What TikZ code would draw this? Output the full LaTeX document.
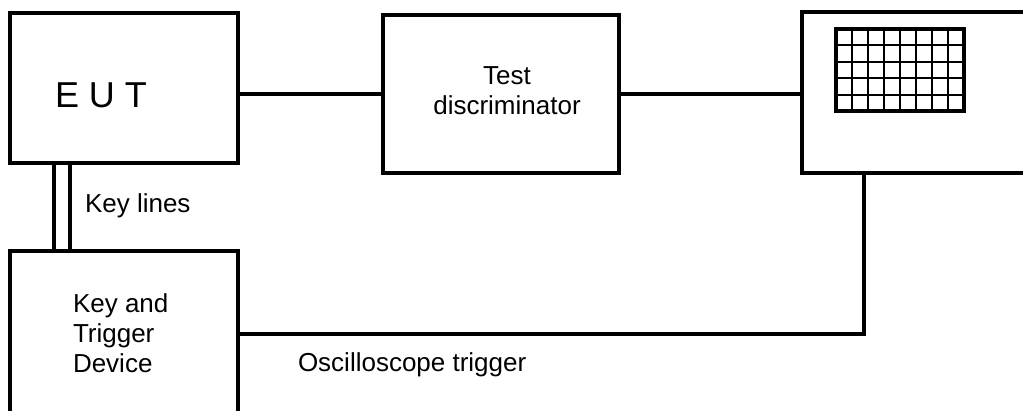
\documentclass[tikz,border=0pt]{standalone}
\usepackage{fontspec}
\setmainfont{Liberation Sans}
\begin{document}
\begin{tikzpicture}[x=1pt,y=-1pt,
  box/.style={draw=black,line width=3.3pt,inner sep=0pt,outer sep=0pt},
  wire/.style={draw=black,line width=3.3pt},
  keyline/.style={draw=black,line width=3.6pt},
  lbl/.style={inner sep=0pt,outer sep=0pt,font=\fontsize{26}{30}\selectfont},
  gridouter/.style={draw=black,line width=3.5pt},
  gridinner/.style={draw=black,line width=2pt}]
\useasboundingbox (0,0) rectangle (1023,411);
\clip (0,0) rectangle (1023,411);
% boxes
\node[box,minimum width=228pt,minimum height=150pt] (eut) at (124,88) {};
\node[box,minimum width=236pt,minimum height=158pt] (test) at (501,94) {};
\node[box,minimum width=240pt,minimum height=161pt] (scope) at (922,92.5) {};
\node[box,minimum width=228pt,minimum height=178pt] (key) at (124,340) {};
% labels
\node[lbl,font=\fontsize{36}{40}\selectfont,anchor=base west] (eutlbl) at (55,108) {E U T};
\node[lbl,align=center,anchor=base] (testlbl) at (507,115) {Test\\discriminator};
\node[lbl,align=left,anchor=base west] (keylbl) at (73,373) {Key and\\Trigger\\Device};
\node[lbl,anchor=base west] (keylineslbl) at (85,213) {Key lines};
\node[lbl,anchor=base west] (triglbl) at (298,372) {Oscilloscope trigger};
% connectors
\draw[wire] (test.west) -- (test.west -| eut.east);
\draw[wire] (test.east) -- (test.east -| scope.west);
\coordinate (trig) at (864,334);
\draw[wire] (key.east |- trig) -- (trig) -- (trig |- scope.south);
\coordinate (kl1) at (54,200);
\coordinate (kl2) at (70,200);
\draw[keyline] (kl1 |- eut.south) -- (kl1 |- key.north);
\draw[keyline] (kl2 |- eut.south) -- (kl2 |- key.north);
% screen grid
\foreach \i in {1,...,7} {\draw[gridinner] (836+16*\i,29) -- (836+16*\i,111);}
\foreach \j in {1,...,4} {\draw[gridinner] (836,29+16.4*\j) -- (964,29+16.4*\j);}
\draw[gridouter] (836,29) rectangle (964,111);
\end{tikzpicture}
\end{document}
